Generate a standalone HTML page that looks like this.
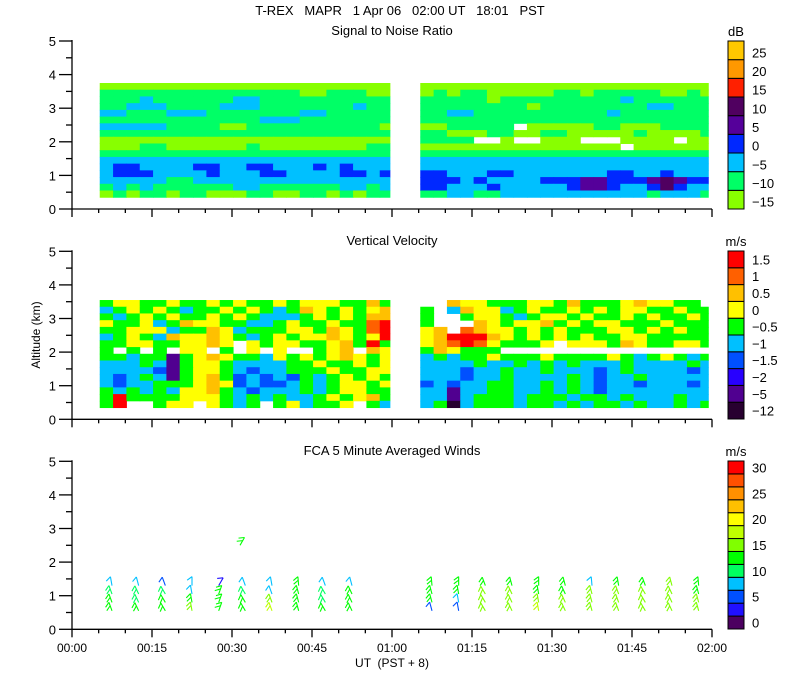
<!DOCTYPE html>
<html><head><meta charset="utf-8"><style>
html,body{margin:0;padding:0;background:#fff;}
svg{display:block;font-family:"Liberation Sans",sans-serif;}
text{font-size:13px;fill:#000;}
</style></head><body>
<svg id="chart" width="800" height="700" xmlns="http://www.w3.org/2000/svg">
<text x="400" y="15" text-anchor="middle" xml:space="preserve">T-REX   MAPR   1 Apr 06   02:00 UT   18:01   PST</text>
<text x="392" y="35" text-anchor="middle">Signal to Noise Ratio</text>
<text x="392" y="245" text-anchor="middle">Vertical Velocity</text>
<text x="392" y="455" text-anchor="middle">FCA 5 Minute Averaged Winds</text>
<text x="0" y="0" text-anchor="middle" transform="translate(40,335) rotate(-90)" style="font-size:12px">Altitude  (km)</text>
<text x="392" y="667" text-anchor="middle" style="font-size:12px" xml:space="preserve">UT  (PST + 8)</text>
<g id="layer"></g>
</svg>
<script>
// ---- shared axis data ----
const xTickLabels = ["00:00","00:15","00:30","00:45","01:00","01:15","01:30","01:45","02:00"];
const yTickLabels = ["0","1","2","3","4","5"];
// ---- SNR heatmap data (row = 0.2 km band, top row first; char = colour level; '.' = no data)
const snrRowBottoms = [3.55,3.35,3.15,2.95,2.75,2.55,2.35,2.15,1.95,1.75,1.55,1.35,1.15,0.95,0.75,0.55,0.35];
const snrRows = [
"0000000000000000000000"+"0000000000000000000000",
"1111111111111110011100"+"0101100000110111110010",
"1112111111221111111111"+"1111101111111112111111",
"1122211112221111111211"+"1111111101111111122111",
"2211122211111112211111"+"1122111111111121111111",
"1111111111112221111111"+"1111111111111111111111",
"2222211110011111111110"+"0011111.00000110001111",
"1111111111111111111111"+"1100011001100000100001",
"0000000000000000000000"+"1111..0..000...0000.00",
"0001100000010000000011"+"000000000000000.000000",
"1111111111111111111111"+"1111111111111111111111",
"2222222222222222222222"+"2222222222222222222222",
"2332222332233222323222"+"2222222222222222222222",
"2333222232223322223323"+"3322233222222233223222",
"2222211222222222222222"+"3332322223334433345433",
"1212111111221111112212"+"3322232222234432235322",
"0101101100011001101011"+"1122112222222222212221"];
const snrColors = ["#88ff00","#00ff66","#00c0ff","#0028ff","#55009a","#500060","#ff2000","#ff9800","#ffc800"];
const snrLabels = ["25","20","15","10","5","0","-5","-10","-15"];
// ---- Vertical velocity heatmap data
const vvRowBottoms = [3.35,3.15,2.95,2.75,2.55,2.35,2.15,1.95,1.75,1.55,1.35,1.15,0.95,0.75,0.55,0.35];
const vvRows = [
"5665565565655656665575"+"..7665556657555676655.",
"4565654556565457656567"+"5.47664565565656655655",
"5456565565654445656577"+"5..5665456656556565565",
"6556457665544565565589"+"5...765667565665556555",
"5566645576455566576589"+"67.8766565655566565655",
"4565476676545656676569"+"6799976565656556655555",
"5566556676.65665567595"+"6789865556.66657655665",
"5.5.5.66.5.6.6..567.76"+"576555................",
"5545515676554656567656"+"4545565556555565456545",
"4445415665444455655656"+"4444544545454445444454",
"4444315665434455565566"+"4443445445444345444434",
"4345415675343435456565"+"4443445444454344544444",
"4344555676343345456656"+"3434455445454344344434",
"5454546675434445456655"+"4414455445454344444444",
"5955556665454544565675"+"4414555455545545444544",
"59..566.6545.564556.54"+"4504555455454554544545"];
const vvColors = ["#280030","#500090","#2800ff","#0050ff","#00c0ff","#00ff00","#ffff00","#ffc000","#ff6000","#ff0000"];
const vvLabels = ["1.5","1","0.5","0","-0.5","-1","-1.5","-2","-5","-12"];
// column start times (minutes) for the two data segments
const seg1Start = 5.2, seg2Start = 65.3, colMinutes = 2.5, seg1End = 59.6, seg2End = 119.3;
// ---- Winds data
const windTimes = [7.5,12.5,17.5,22.5,27.5,32.5,37.5,42.5,47.5,52.5,67.5,72.5,77.5,82.5,87.5,92.5,97.5,102.5,107.5,112.5,117.5];
const windHeights = [0.55,0.8,1.05,1.3];
const speedLevel1 = [13,13,13,17,13,13,18,13,13,13,6,7,16,16,18,15,17,16,17,16,15];
const speedLevel2 = [13,12,13,13,13,13,17,13,12,13,13,9,16,15,17,15,17,16,17,16,15];
const speedLevel3 = [12,12,12,9,13,12,9,13,12,13,13,13,16,15,14,14,17,15,15,16,14];
const speedLevel4 = [9,9,5,9,4,9,9,13,9,9,13,13,14,13,13,13,9,14,14,15,13];
const windDirs = [340,335,330,350,20,330,340,345,330,335,345,350,330,335,350,335,345,340,330,335,345];
const windColors = ["#4c0060","#2010ff","#0050ff","#00c0ff","#00ff60","#00ff00","#80ff00","#c0ff00","#ffff00","#ffc000","#ff9000","#ff5000","#ff0000"];
const windLabels = ["30","25","20","15","10","5","0"];
const extraBarbTime = [31.5], extraBarbHeight = [2.5], extraBarbSpeed = [13];

const NS="http://www.w3.org/2000/svg";
const layer=document.getElementById('layer');
function mk(tag,attrs,parent){const e=document.createElementNS(NS,tag);for(const k in attrs)e.setAttribute(k,attrs[k]);(parent||layer).appendChild(e);return e;}
const X0=72, XW=640, KM=33.6;
const xs = m => X0 + m*XW/120;
const panels=[{y0:209,name:'snr'},{y0:419.3,name:'vv'},{y0:629.3,name:'winds'}];
const ys = (p,h) => p.y0 - h*KM;

function heat(p,rows,bottoms,colors,name){
  const g=mk('g',{});
  
  
  rows.forEach((row,r)=>{
    for(let c=0;c<row.length;c++){
      const ch=row[c]; if(ch==='.') continue;
      const seg = c<22?0:1, k = c%22;
      const t0 = (seg?seg2Start:seg1Start)+k*colMinutes;
      const t1 = Math.min(t0+colMinutes, seg?seg2End:seg1End);
      const h0=bottoms[r], h1=bottoms[r]+0.2;
      const rc=mk('rect',{x:xs(t0),y:ys(p,h1),width:xs(t1)-xs(t0)+0.5,height:ys(p,h0)-ys(p,h1)+0.5,fill:colors[+ch]},g);
      
      
    }
  });
}
heat(panels[0],snrRows,snrRowBottoms,snrColors,'snr');
heat(panels[1],vvRows,vvRowBottoms,vvColors,'vv');

panels.forEach(p=>{
  const g=mk('g',{stroke:'#000','stroke-width':1.3,fill:'none'});
  
  
  mk('line',{x1:X0,y1:ys(p,5)-1,x2:X0,y2:p.y0},g);
  mk('line',{x1:X0,y1:p.y0,x2:X0+XW,y2:p.y0},g);
  for(let i=0;i<=10;i++){const y=ys(p,i*0.5);mk('line',{x1:X0-(i%2?6:13),y1:y,x2:X0,y2:y},g);}
  for(let i=0;i<=24;i++){const x=xs(i*5);mk('line',{x1:x,y1:p.y0,x2:x,y2:p.y0+(i%3?4:8)},g);}
  yTickLabels.forEach((l,i)=>{const t=mk('text',{x:X0-16,y:ys(p,i)+5,'text-anchor':'end'});t.textContent=l;
    });
});
xTickLabels.forEach((l,i)=>{const t=mk('text',{x:xs(i*15),y:652,'text-anchor':'middle',style:'font-size:12px'});t.textContent=l;
  });

function cbar(top,bottom,colors,labels,unit,name,labelOffset){
  const n=colors.length, h=(bottom-top)/n;
  const g=mk('g',{});
  
  
  for(let i=0;i<n;i++){
    mk('rect',{x:728,y:bottom-(i+1)*h,width:16,height:h,fill:colors[i],stroke:'#000','stroke-width':1},g);
  }
  const ut=mk('text',{x:736,y:top-5,'text-anchor':'middle'},g);ut.textContent=unit;
  labels.forEach((l,i)=>{const y=labelOffset(i,h,top);const t=mk('text',{x:752,y:y,'text-anchor':'start'},g);t.textContent=l.replace('-','\u2212');});
}
cbar(41,209,snrColors,snrLabels,'dB','snr',(i,h,top)=>top+(i+0.5)*h+7);
cbar(251,419,vvColors,vvLabels,'m/s','vv',(i,h,top)=>top+(i+0.5)*h+5);
cbar(461,629,windColors,windLabels,'m/s','winds',(i,h,top)=>top+(2*i+0.5)*h+5);

function windColor(s){return windColors[Math.min(12,Math.max(0,Math.floor(s/2.5)))];}
function barb(t,hk,spd,dir){
  const p=panels[2];
  const x=xs(t), y=ys(p,hk);
  const a=dir*Math.PI/180, L=9;
  const dx=Math.sin(a)*L, dy=-Math.cos(a)*L;
  const col=windColor(spd);
  const g=mk('g',{stroke:col,'stroke-width':1.1,fill:'none'});
  
  
  mk('line',{x1:x,y1:y,x2:x+dx,y2:y+dy},g);
  const pa=a-Math.PI*0.7, bl=6;
  mk('line',{x1:x+dx,y1:y+dy,x2:x+dx+Math.sin(pa)*bl,y2:y+dy-Math.cos(pa)*bl},g);
  if(spd>=10){const bx=x+dx*0.6, by=y+dy*0.6;
    mk('line',{x1:bx,y1:by,x2:bx+Math.sin(pa)*bl,y2:by-Math.cos(pa)*bl},g);}
}
windTimes.forEach((t,i)=>{
  barb(t,windHeights[0],speedLevel1[i],windDirs[i]);
  barb(t,windHeights[1],speedLevel2[i],windDirs[i]);
  barb(t,windHeights[2],speedLevel3[i],windDirs[i]);
  barb(t,windHeights[3],speedLevel4[i],windDirs[i]+10);
});
extraBarbTime.forEach((t,i)=>barb(t,extraBarbHeight[i],extraBarbSpeed[i],30));
</script>
</body></html>
